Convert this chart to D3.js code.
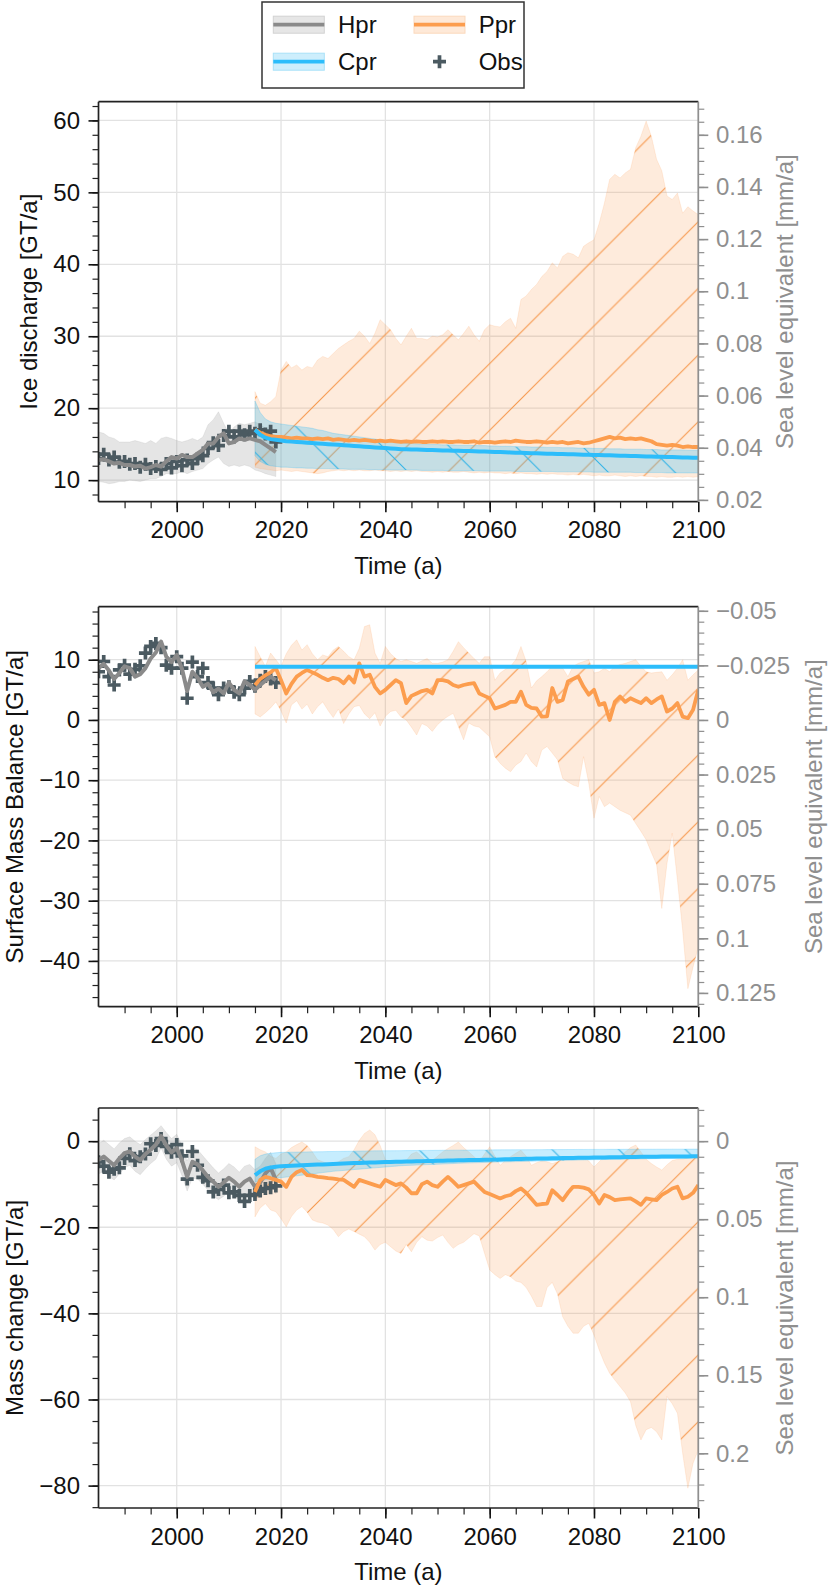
<!DOCTYPE html>
<meta charset="utf-8">
<style>
body{margin:0;background:#fff;}
svg text{font-family:"Liberation Sans", Arial, sans-serif; font-size:24px;}
</style>
<svg id="chart" width="832" height="1592"></svg>
<script src="https://d3js.org/d3.v7.min.js"></script>
<script>
// Three stacked panels: ice discharge, surface mass balance, mass change.
// Left axis in GT/a, right axis the same thing as sea level equivalent (1 mm = 362.5 GT).

// ---- years ----
const HIST_YEARS = d3.range(1985, 2020)   // 1985..2019
const PROJ_YEARS = d3.range(2015, 2101)   // 2015..2100

// ---- ticks ----
const X_TICKS = [2000, 2020, 2040, 2060, 2080, 2100]
const X_MINOR = d3.range(1990, 2100, 5)
const DISC_TICKS = [10, 20, 30, 40, 50, 60]
const DISC_SLE_TICKS = [0.02, 0.04, 0.06, 0.08, 0.1, 0.12, 0.14, 0.16]
const SMB_TICKS = [-40, -30, -20, -10, 0, 10]
const SMB_SLE_TICKS = [-0.05, -0.025, 0, 0.025, 0.05, 0.075, 0.1, 0.125]
const MC_TICKS = [-80, -60, -40, -20, 0]
const MC_SLE_TICKS = [0, 0.05, 0.1, 0.15, 0.2]

// ---- panel 1: ice discharge ----
const discObs = [13.0, 13.6, 12.8, 13.2, 12.5, 12.6, 12.2, 12.3, 11.8, 12.2,
  11.6, 11.9, 11.5, 12.3, 11.7, 12.6, 12.0, 12.8, 12.3, 13.0,
  13.4, 14.4, 15.2, 14.8, 16.2, 16.8, 16.0, 16.8, 16.3, 16.8,
  16.5, 17.0, 16.4, 16.8, 15.3]
const discHpr = [12.8, 12.9, 12.6, 12.3, 12.4, 12.1, 12.1, 11.9, 12.0, 11.6,
  11.8, 12.1, 11.9, 12.6, 13.2, 13.0, 13.5, 13.2, 13.2, 13.7,
  14.2, 15.1, 15.1, 16.0, 16.5, 15.1, 15.3, 15.8, 15.6, 15.8,
  15.6, 15.4, 14.9, 14.4, 13.9]
const discHprHi = [16.7, 16.5, 16.0, 15.8, 15.3, 15.3, 15.3, 15.5, 15.3, 15.1,
  15.5, 15.1, 15.8, 16.0, 15.8, 15.5, 15.3, 15.5, 15.8, 15.5,
  16.0, 17.7, 18.4, 19.5, 17.9, 16.5, 17.4, 17.9, 17.7, 17.9,
  18.1, 17.7, 17.2, 16.5, 16.0]
const discHprLo = [9.8, 9.7, 9.5, 9.6, 9.8, 9.8, 10.0, 9.9, 9.8, 10.0,
  10.2, 10.2, 10.5, 10.9, 10.9, 10.9, 11.2, 10.9, 11.2, 11.4,
  11.6, 12.3, 12.8, 13.2, 12.3, 11.9, 12.1, 11.9, 12.1, 11.9,
  11.4, 11.2, 10.9, 10.7, 10.5]
const discPpr = [17.0, 16.6, 16.3, 16.1, 16.0, 16.0, 15.9, 15.8, 15.9, 15.8,
  15.8, 15.7, 15.8, 15.7, 15.8, 15.6, 15.7, 15.6, 15.5, 15.6,
  15.5, 15.6, 15.5, 15.4, 15.5, 15.4, 15.5, 15.4, 15.3, 15.4,
  15.3, 15.4, 15.3, 15.3, 15.4, 15.3, 15.4, 15.3, 15.3, 15.4,
  15.3, 15.3, 15.4, 15.2, 15.3, 15.3, 15.2, 15.3, 15.4, 15.3,
  15.5, 15.4, 15.3, 15.3, 15.4, 15.3, 15.2, 15.3, 15.2, 15.3,
  15.1, 15.2, 15.3, 15.1, 15.2, 15.4, 15.6, 15.8, 16.0, 15.8,
  15.9, 15.7, 15.8, 15.7, 15.8, 15.6, 15.4, 15.0, 14.9, 14.8,
  14.9, 14.8, 14.6, 14.7, 14.6, 14.6]
const discPprHi = [22.3, 20.7, 20.4, 20.9, 21.6, 25.3, 26.5, 25.6, 26.0, 25.3,
  25.8, 25.6, 26.7, 27.2, 26.9, 27.6, 28.3, 28.8, 29.3, 29.7,
  30.7, 30.0, 29.0, 30.4, 32.3, 31.6, 30.9, 29.7, 28.8, 30.0,
  31.1, 29.7, 29.7, 29.5, 30.0, 29.9, 30.2, 30.9, 30.2, 29.5,
  30.4, 31.4, 30.2, 29.3, 30.9, 31.6, 31.4, 31.3, 32.0, 32.5,
  31.1, 35.1, 35.6, 36.5, 37.2, 38.3, 39.0, 40.2, 39.5, 41.1,
  41.6, 41.4, 40.9, 42.5, 43.0, 43.4, 45.7, 48.5, 51.8, 52.5,
  52.0, 52.7, 53.2, 56.2, 57.8, 59.9, 57.8, 54.6, 53.0, 49.5,
  49.0, 49.9, 47.1, 48.0, 47.4, 46.9]
const discPprLo = [11.8, 11.6, 11.5, 11.4, 11.3, 11.4, 11.3, 11.2, 11.3, 11.2,
  11.1, 11.0, 10.9, 11.0, 11.2, 11.3, 11.4, 11.3, 11.4, 11.3,
  11.4, 11.3, 11.3, 11.4, 11.3, 11.3, 11.2, 11.3, 11.2, 11.3,
  11.2, 11.3, 11.2, 11.2, 11.1, 11.2, 11.1, 11.2, 11.1, 11.1,
  11.2, 11.1, 11.0, 11.1, 11.0, 11.1, 11.0, 11.0, 10.9, 11.0,
  10.9, 11.0, 10.9, 10.9, 10.8, 10.9, 10.8, 10.9, 10.8, 10.8,
  10.7, 10.8, 10.7, 10.8, 10.7, 10.6, 10.7, 10.6, 10.6, 10.7,
  10.6, 10.5, 10.6, 10.5, 10.6, 10.5, 10.5, 10.4, 10.5, 10.4,
  10.4, 10.5, 10.4, 10.5, 10.4, 10.5]
const discCpr = [17.0, 16.3, 15.9, 15.7, 15.6, 15.5, 15.4, 15.35, 15.3, 15.25,
  15.2, 15.15, 15.1, 15.05, 15.0, 14.95, 14.9, 14.85, 14.8, 14.75,
  14.7, 14.65, 14.6, 14.55, 14.5, 14.45, 14.4, 14.35, 14.3, 14.28,
  14.26, 14.24, 14.22, 14.2, 14.18, 14.15, 14.13, 14.11, 14.09, 14.07,
  14.05, 14.03, 14.01, 13.99, 13.97, 13.95, 13.92, 13.9, 13.87, 13.85,
  13.82, 13.8, 13.77, 13.75, 13.72, 13.7, 13.68, 13.66, 13.64, 13.62,
  13.6, 13.58, 13.56, 13.54, 13.52, 13.5, 13.48, 13.46, 13.44, 13.42,
  13.4, 13.38, 13.36, 13.34, 13.32, 13.3, 13.28, 13.26, 13.24, 13.22,
  13.2, 13.18, 13.16, 13.14, 13.12, 13.1]
const discCprHi = [21.0, 19.4, 18.5, 18.1, 17.9, 17.8, 17.7, 17.6, 17.5, 17.4,
  17.3, 17.2, 17.0, 16.9, 16.7, 16.5, 16.4, 16.3, 16.2, 16.1,
  16.0, 15.9, 15.8, 15.7, 15.6, 15.5, 15.4, 15.3, 15.2, 15.15,
  15.1, 15.05, 15.0, 15.0, 14.95, 14.95, 14.9, 14.9, 14.9, 14.85,
  14.85, 14.85, 14.8, 14.8, 14.8, 14.75, 14.75, 14.7, 14.7, 14.7,
  14.65, 14.65, 14.65, 14.6, 14.6, 14.6, 14.55, 14.55, 14.55, 14.5,
  14.5, 14.5, 14.45, 14.45, 14.45, 14.4, 14.4, 14.4, 14.35, 14.35,
  14.35, 14.3, 14.3, 14.3, 14.3, 14.25, 14.25, 14.25, 14.2, 14.2,
  14.2, 14.2, 14.2, 14.15, 14.15, 14.15]
const discCprLo = [13.4, 12.6, 12.2, 12.0, 11.9, 11.8, 11.8, 11.75, 11.7, 11.7,
  11.65, 11.65, 11.6, 11.6, 11.6, 11.55, 11.55, 11.55, 11.5, 11.5,
  11.5, 11.5, 11.45, 11.45, 11.45, 11.45, 11.4, 11.4, 11.4, 11.4,
  11.4, 11.4, 11.35, 11.35, 11.35, 11.35, 11.35, 11.3, 11.3, 11.3,
  11.3, 11.3, 11.3, 11.3, 11.25, 11.25, 11.25, 11.25, 11.25, 11.25,
  11.2, 11.2, 11.2, 11.2, 11.2, 11.2, 11.2, 11.2, 11.15, 11.15,
  11.15, 11.15, 11.15, 11.15, 11.15, 11.1, 11.1, 11.1, 11.1, 11.1,
  11.1, 11.1, 11.1, 11.05, 11.05, 11.05, 11.05, 11.05, 11.05, 11.0,
  11.0, 11.0, 11.0, 11.0, 11.0, 11.0]

// ---- panel 2: surface mass balance ----
const smbObs = [8.0, 9.7, 7.2, 5.8, 8.3, 9.1, 7.6, 8.4, 9.0, 11.1,
  12.2, 12.7, 12.0, 9.1, 8.6, 10.5, 8.6, 3.6, 9.6, 7.2,
  8.6, 6.2, 5.3, 4.2, 5.3, 5.5, 4.6, 4.2, 5.3, 6.4,
  5.6, 6.6, 7.2, 6.8, 6.2]
const smbHpr = [8.6, 9.3, 8.2, 6.8, 7.8, 8.9, 8.6, 7.2, 7.6, 8.6,
  10.2, 11.2, 13.0, 10.5, 9.6, 10.8, 8.5, 4.8, 8.0, 7.0,
  5.5, 6.0, 4.6, 5.2, 4.4, 6.2, 5.0, 4.4, 6.4, 5.8,
  5.0, 5.8, 6.5, 7.2, 6.6]
const smbPpr = [5.8, 6.8, 7.4, 7.9, 8.6, 6.6, 4.4, 6.0, 7.2, 7.8,
  8.3, 7.9, 7.5, 7.0, 6.6, 7.0, 6.8, 6.1, 7.2, 6.2,
  9.4, 7.2, 7.5, 5.5, 4.4, 5.0, 5.8, 6.6, 6.1, 2.8,
  4.0, 4.4, 4.8, 5.0, 4.4, 6.6, 6.6, 6.4, 5.8, 5.5,
  5.8, 6.0, 6.1, 4.4, 4.0, 3.6, 1.9, 2.2, 2.5, 3.0,
  3.0, 4.7, 2.5, 2.0, 1.9, 0.55, 0.6, 5.3, 3.0, 3.3,
  6.4, 6.8, 7.2, 5.5, 4.2, 5.0, 2.5, 2.8, 0.0, 3.0,
  3.9, 3.0, 3.6, 3.2, 2.8, 3.6, 2.8, 3.4, 3.9, 1.4,
  1.9, 2.8, 0.55, 0.3, 1.7, 5.0]
const smbPprHi = [12.2, 10.5, 8.9, 11.1, 10.0, 8.9, 11.0, 12.4, 13.3, 11.6,
  12.5, 11.0, 10.0, 10.8, 10.5, 11.6, 12.2, 11.4, 10.5, 10.0,
  11.9, 15.5, 15.8, 11.1, 9.4, 12.2, 11.0, 10.2, 9.7, 10.0,
  9.7, 9.4, 9.8, 10.2, 9.4, 9.4, 9.6, 10.0, 11.4, 13.0,
  12.0, 11.1, 10.2, 9.4, 10.5, 10.5, 6.6, 7.8, 8.4, 8.9,
  10.0, 12.2, 9.7, 5.3, 6.5, 7.2, 8.0, 8.9, 8.8, 8.6,
  7.2, 8.9, 9.4, 9.7, 10.0, 7.8, 8.0, 8.6, 8.0, 8.9,
  9.2, 9.4, 9.7, 10.0, 8.9, 8.0, 7.8, 7.9, 8.0, 6.6,
  7.5, 8.6, 10.0, 6.6, 7.5, 8.3]
const smbPprLo = [1.0, 0.5, 1.2, 2.0, 3.0, 1.5, -0.5, 2.5, 3.2, 1.8,
  2.6, 1.0, 2.2, 3.0, 1.6, 0.4, 1.8, -0.6, 1.0, 2.2,
  2.4, 1.0, 0.2, 1.2, -1.0, 0.6, 1.4, 1.6, 0.5, 0.0,
  -1.2, -2.5, -0.6, -1.0, -1.9, -0.8, 0.0, 0.6, 1.1, -1.1,
  -3.3, -0.5, -1.0, -1.2, -2.0, -2.8, -6.1, -7.2, -8.0, -8.6,
  -7.5, -6.9, -5.5, -6.9, -7.8, -5.0, -4.4, -5.5, -6.6, -9.7,
  -10.3, -10.8, -11.1, -6.1, -10.5, -16.3, -12.7, -14.4, -13.8, -14.4,
  -15.0, -15.4, -15.8, -17.2, -18.5, -19.9, -22.0, -24.0, -31.3, -23.8,
  -18.8, -26.6, -34.9, -44.6, -41.0, -37.7]
const smbCprYears = [2015, 2100]
const smbCpr = [8.85, 8.85]

// ---- panel 3: mass change ----
const mcObs = [-4.8, -5.8, -7.2, -6.5, -6.2, -4.0, -2.9, -4.5, -3.6, -3.0,
  -0.6, -1.0, 0.6, -1.2, -2.6, -0.8, -3.4, -8.8, -2.4, -5.6,
  -8.4, -9.2, -11.8, -11.2, -10.2, -12.0, -11.8, -12.6, -14.0, -12.6,
  -12.4, -11.6, -11.0, -10.8, -10.4]
const mcHpr = [-4.4, -3.6, -4.6, -5.6, -4.0, -2.8, -2.4, -3.6, -4.4, -3.0,
  -2.0, -0.8, 1.2, -1.0, -2.6, -1.6, -4.5, -8.3, -4.8, -5.4,
  -6.8, -8.3, -9.4, -10.6, -9.6, -8.5, -9.4, -10.6, -9.4, -8.7,
  -10.6, -9.6, -7.5, -6.2, -9.0]
const mcHprHi = [-0.6, 0.2, -0.8, -1.8, -0.4, 0.6, 1.0, 0.0, -0.8, 0.4,
  1.4, 2.4, 3.6, 2.0, 0.6, 1.6, -1.0, -4.6, -1.4, -2.0,
  -3.4, -4.8, -6.2, -7.4, -6.4, -5.2, -6.0, -7.2, -5.8, -5.4,
  -6.6, -5.8, -4.0, -2.6, -5.2]
const mcHprLo = [-7.6, -7.0, -8.2, -9.0, -7.6, -6.2, -5.6, -7.0, -7.8, -6.4,
  -5.2, -4.2, -1.6, -4.2, -5.8, -5.0, -8.0, -11.6, -8.6, -8.8,
  -10.0, -11.4, -12.8, -13.6, -12.8, -11.6, -12.8, -13.8, -12.4, -12.0,
  -13.6, -12.8, -10.8, -9.4, -12.2]
const mcPpr = [-11.8, -9.0, -8.3, -8.6, -9.0, -9.4, -10.6, -8.3, -7.2, -6.7,
  -7.9, -8.0, -8.3, -8.4, -8.6, -8.7, -8.9, -9.0, -9.8, -10.6,
  -9.0, -9.4, -9.8, -10.2, -10.6, -9.0, -9.6, -10.2, -9.8, -10.8,
  -12.1, -12.1, -10.0, -9.4, -10.2, -10.6, -9.4, -8.3, -9.4, -10.6,
  -10.2, -9.8, -9.4, -10.6, -11.8, -12.3, -12.8, -13.3, -12.8, -12.5,
  -11.6, -11.0, -12.0, -13.4, -14.8, -14.6, -14.5, -11.4, -12.5, -13.7,
  -12.0, -10.6, -10.6, -10.8, -11.2, -12.5, -14.5, -12.5, -13.0, -13.7,
  -13.5, -13.4, -13.3, -14.0, -14.8, -13.3, -13.5, -13.7, -12.5, -11.8,
  -11.0, -10.6, -13.3, -12.9, -12.0, -10.2]
const mcPprHi = [-1.3, -2.0, -2.5, -3.5, -4.0, -3.0, -2.5, -1.5, -0.8, -0.2,
  -1.0, -2.5, -4.3, -4.8, -5.2, -5.2, -4.8, -4.0, -3.6, -2.0,
  0.2, 1.8, 2.6, 1.5, -1.0, -4.3, -4.8, -5.0, -5.2, -4.5,
  -3.0, -2.5, -3.6, -4.8, -4.5, -3.5, -2.5, -1.7, -1.0, -0.2,
  -1.5, -2.5, -3.6, -4.8, -3.0, -1.3, -3.5, -5.6, -4.5, -3.6,
  -2.8, -2.1, -3.5, -5.6, -5.0, -4.6, -4.8, -5.2, -4.8, -4.0,
  -3.8, -3.6, -3.6, -3.8, -4.6, -6.0, -4.8, -3.6, -3.6, -3.6,
  -3.6, -2.5, -1.5, -0.9, -2.5, -4.2, -5.2, -6.0, -6.7, -5.5,
  -4.5, -4.2, -4.2, -3.8, -3.5, -3.6]
const mcPprLo = [-17.6, -15.5, -14.5, -16.0, -16.4, -18.0, -19.9, -17.5, -16.0, -15.2,
  -16.5, -18.3, -18.8, -19.0, -19.5, -20.5, -22.2, -21.0, -20.4, -21.0,
  -21.6, -22.2, -23.5, -25.3, -24.0, -23.5, -24.5, -25.5, -26.1, -24.0,
  -25.7, -23.5, -22.2, -23.0, -23.2, -22.4, -21.8, -23.5, -24.9, -24.0,
  -23.5, -22.5, -21.5, -22.0, -26.0, -29.9, -31.0, -31.9, -31.0, -31.5,
  -32.5, -32.8, -34.0, -36.0, -38.4, -38.4, -34.0, -32.8, -35.5, -40.8,
  -43.0, -44.6, -44.6, -43.0, -42.3, -45.0, -48.5, -51.5, -53.9, -55.5,
  -57.0, -58.5, -60.5, -66.0, -69.4, -67.0, -66.5, -67.5, -69.4, -59.3,
  -61.0, -63.2, -72.5, -80.6, -74.8, -71.7]
const mcCpr = [-7.9, -7.0, -6.4, -6.1, -5.95, -5.8, -5.75, -5.7, -5.65, -5.6,
  -5.55, -5.5, -5.45, -5.4, -5.35, -5.3, -5.25, -5.2, -5.15, -5.1,
  -5.06, -5.02, -4.98, -4.94, -4.9, -4.87, -4.84, -4.81, -4.78, -4.75,
  -4.72, -4.69, -4.66, -4.63, -4.6, -4.57, -4.54, -4.51, -4.48, -4.45,
  -4.42, -4.4, -4.38, -4.36, -4.34, -4.32, -4.29, -4.26, -4.23, -4.2,
  -4.17, -4.14, -4.11, -4.08, -4.05, -4.02, -4.0, -3.98, -3.96, -3.94,
  -3.92, -3.9, -3.88, -3.86, -3.84, -3.82, -3.8, -3.78, -3.76, -3.74,
  -3.72, -3.7, -3.68, -3.66, -3.64, -3.62, -3.61, -3.6, -3.59, -3.58,
  -3.57, -3.56, -3.55, -3.54, -3.52, -3.5]
const mcCprHi = [-4.2, -3.4, -3.0, -2.8, -2.7, -2.6, -2.58, -2.56, -2.54, -2.52,
  -2.5, -2.48, -2.46, -2.44, -2.42, -2.4, -2.38, -2.36, -2.34, -2.32,
  -2.3, -2.28, -2.26, -2.25, -2.24, -2.23, -2.22, -2.21, -2.2, -2.19,
  -2.18, -2.17, -2.16, -2.15, -2.14, -2.13, -2.12, -2.11, -2.1, -2.09,
  -2.08, -2.07, -2.06, -2.05, -2.04, -2.03, -2.02, -2.01, -2.0, -2.0,
  -1.99, -1.99, -1.98, -1.98, -1.97, -1.97, -1.96, -1.96, -1.95, -1.95,
  -1.94, -1.94, -1.93, -1.93, -1.92, -1.92, -1.91, -1.91, -1.9, -1.9,
  -1.9, -1.89, -1.89, -1.89, -1.88, -1.88, -1.88, -1.87, -1.87, -1.87,
  -1.86, -1.86, -1.86, -1.85, -1.85, -1.85]
const mcCprLo = [-9.5, -9.2, -8.9, -8.7, -8.6, -8.5, -8.35, -8.2, -8.05, -7.9,
  -7.75, -7.6, -7.45, -7.3, -7.15, -7.0, -6.9, -6.8, -6.7, -6.6,
  -6.5, -6.4, -6.3, -6.2, -6.1, -6.0, -5.9, -5.8, -5.7, -5.65,
  -5.6, -5.55, -5.5, -5.45, -5.4, -5.35, -5.3, -5.25, -5.2, -5.15,
  -5.1, -5.06, -5.02, -4.98, -4.94, -4.9, -4.87, -4.84, -4.81, -4.78,
  -4.75, -4.72, -4.69, -4.66, -4.63, -4.6, -4.57, -4.54, -4.51, -4.48,
  -4.45, -4.42, -4.39, -4.36, -4.33, -4.3, -4.28, -4.26, -4.24, -4.22,
  -4.2, -4.18, -4.16, -4.14, -4.12, -4.1, -4.08, -4.06, -4.04, -4.02,
  -4.0, -3.98, -3.96, -3.94, -3.92, -3.9]

// ---- look ----
const GT_PER_MM = 362.5
const C_GRAY = '#8a8a8a', C_ORANGE = '#fc9d4e', C_BLUE = '#2cbdfb', C_OBS = '#4b5a61'
const C_GRID = '#e2e2e2', C_SPINE = '#222', C_RIGHT = '#8f8f8f'
const X0 = 98.5, X1 = 698.3, H = 400
const HATCH = 200 / 3

const PANELS = [
  { top: 101.7, yDomain: [7.0, 62.6], sle: 1 / GT_PER_MM,
    ticks: DISC_TICKS, minor: 2, sleTicks: DISC_SLE_TICKS, sleMinor: 0.005,
    label: 'Ice discharge [GT/a]', labelX: 37, sleLabelX: 793,
    obs: discObs,
    hpr: { years: HIST_YEARS, mid: discHpr, lo: discHprLo, hi: discHprHi },
    ppr: { years: PROJ_YEARS, mid: discPpr, lo: discPprLo, hi: discPprHi },
    cpr: { years: PROJ_YEARS, mid: discCpr, lo: discCprLo, hi: discCprHi } },
  { top: 606.7, yDomain: [-47.6, 18.8], sle: -1 / GT_PER_MM,
    ticks: SMB_TICKS, minor: 2, sleTicks: SMB_SLE_TICKS, sleMinor: 0.005,
    label: 'Surface Mass Balance [GT/a]', labelX: 23, sleLabelX: 822,
    obs: smbObs,
    hpr: { years: HIST_YEARS, mid: smbHpr },
    ppr: { years: PROJ_YEARS, mid: smbPpr, lo: smbPprLo, hi: smbPprHi },
    cpr: { years: smbCprYears, mid: smbCpr } },
  { top: 1108, yDomain: [-85.2, 7.7], sle: -1 / GT_PER_MM,
    ticks: MC_TICKS, minor: 5, sleTicks: MC_SLE_TICKS, sleMinor: 0.01,
    label: 'Mass change [GT/a]', labelX: 23, sleLabelX: 793,
    obs: mcObs,
    hpr: { years: HIST_YEARS, mid: mcHpr, lo: mcHprLo, hi: mcHprHi },
    ppr: { years: PROJ_YEARS, mid: mcPpr, lo: mcPprLo, hi: mcPprHi },
    cpr: { years: PROJ_YEARS, mid: mcCpr, lo: mcCprLo, hi: mcCprHi } }
]

const svg = d3.select('#chart')
const defs = svg.append('defs')

// hatch patterns, anchored to page coordinates like matplotlib does
defs.append('pattern').attr('id', 'hatch-ppr')
  .attr('patternUnits', 'userSpaceOnUse').attr('width', HATCH).attr('height', HATCH)
  .attr('patternTransform', 'translate(53.3,0)')
  .append('path')
  .attr('d', `M0,${HATCH}L${HATCH},0M-2,2L2,-2M${HATCH - 2},${HATCH + 2}L${HATCH + 2},${HATCH - 2}`)
  .attr('stroke', '#f6984c').attr('stroke-width', 1.1)
defs.append('pattern').attr('id', 'hatch-cpr')
  .attr('patternUnits', 'userSpaceOnUse').attr('width', HATCH).attr('height', HATCH)
  .attr('patternTransform', 'translate(0,64)')
  .append('path')
  .attr('d', `M0,0L${HATCH},${HATCH}M-2,${HATCH - 2}L2,${HATCH + 2}M${HATCH - 2},-2L${HATCH + 2},2`)
  .attr('stroke', '#35b4e6').attr('stroke-width', 1.1)

const x = d3.scaleLinear().domain([1985, 2100]).range([X0, X1])

function minorTicks(domain, step) {
  const lo = Math.ceil(d3.min(domain) / step - 1e-9), hi = Math.floor(d3.max(domain) / step + 1e-9)
  return d3.range(lo, hi + 1).map(k => +(k * step).toFixed(6))
}
const fmtSle = v => String(+v.toFixed(4)).replace('-', '\u2212')

function styleAxis(g, color, width) {
  g.select('.domain').remove()
  g.style('color', color)
  g.selectAll('line').attr('stroke-width', width)
}

function zip(s, key) {
  return s.years.map((yr, i) => ({ year: yr, v: s[key][i], lo: s.lo ? s.lo[i] : 0, hi: s.hi ? s.hi[i] : 0 }))
}

PANELS.forEach((p, pi) => {
  const y = d3.scaleLinear().domain(p.yDomain).range([p.top + H, p.top])
  const ySle = d3.scaleLinear().domain(p.yDomain.map(v => v * p.sle)).range([p.top + H, p.top])
  const g = svg.append('g')

  defs.append('clipPath').attr('id', 'clip' + pi).append('rect')
    .attr('x', X0).attr('y', p.top).attr('width', X1 - X0).attr('height', H)

  // grid
  g.append('g').selectAll('line').data(X_TICKS).join('line')
    .attr('x1', d => x(d)).attr('x2', d => x(d)).attr('y1', p.top).attr('y2', p.top + H)
    .attr('stroke', C_GRID).attr('stroke-width', 1.3)
  g.append('g').selectAll('line').data(p.ticks).join('line')
    .attr('x1', X0).attr('x2', X1).attr('y1', d => y(d)).attr('y2', d => y(d))
    .attr('stroke', C_GRID).attr('stroke-width', 1.3)

  const plot = g.append('g').attr('clip-path', `url(#clip${pi})`)
  const area = d3.area().x(d => x(d.year)).y0(d => y(d.lo)).y1(d => y(d.hi))
  const line = d3.line().x(d => x(d.year)).y(d => y(d.v))

  // bands
  if (p.hpr.lo) {
    plot.append('path').attr('d', area(zip(p.hpr, 'mid')))
      .attr('fill', '#999').attr('fill-opacity', 0.25)
      .attr('stroke', '#999').attr('stroke-opacity', 0.15).attr('stroke-width', 1)
  }
  const pprBand = area(zip(p.ppr, 'mid'))
  plot.append('path').attr('d', pprBand)
    .attr('fill', C_ORANGE).attr('fill-opacity', 0.2)
    .attr('stroke', C_ORANGE).attr('stroke-opacity', 0.15).attr('stroke-width', 1)
  plot.append('path').attr('d', pprBand).attr('fill', 'url(#hatch-ppr)')
  if (p.cpr.lo) {
    const cprBand = area(zip(p.cpr, 'mid'))
    plot.append('path').attr('d', cprBand)
      .attr('fill', C_BLUE).attr('fill-opacity', 0.27)
      .attr('stroke', C_BLUE).attr('stroke-opacity', 0.25).attr('stroke-width', 1)
    plot.append('path').attr('d', cprBand).attr('fill', 'url(#hatch-cpr)')
  }

  // observations as + markers
  plot.append('g').selectAll('path').data(HIST_YEARS.map((yr, i) => [yr, p.obs[i]])).join('path')
    .attr('transform', d => `translate(${x(d[0])},${y(d[1])})`)
    .attr('d', 'M-6.5,0H6.5M0,-6.5V6.5')
    .attr('stroke', C_OBS).attr('stroke-width', 3.7).attr('fill', 'none')

  // lines
  plot.append('path').attr('d', line(zip(p.hpr, 'mid'))).attr('fill', 'none')
    .attr('stroke', C_GRAY).attr('stroke-width', 4).attr('stroke-linejoin', 'round')
  plot.append('path').attr('d', line(zip(p.ppr, 'mid'))).attr('fill', 'none')
    .attr('stroke', C_ORANGE).attr('stroke-width', 3.8).attr('stroke-linejoin', 'round')
  plot.append('path').attr('d', line(zip(p.cpr, 'mid'))).attr('fill', 'none')
    .attr('stroke', C_BLUE).attr('stroke-width', 4).attr('stroke-linejoin', 'round')

  // axes
  g.append('g').attr('transform', `translate(${X0},0)`)
    .call(d3.axisLeft(y).tickValues(minorTicks(p.yDomain, p.minor)).tickSize(6).tickFormat(() => ''))
    .call(styleAxis, C_SPINE, 1.2)
  g.append('g').attr('transform', `translate(${X0},0)`)
    .call(d3.axisLeft(y).tickValues(p.ticks).tickSize(10).tickPadding(8.5).tickFormat(d3.format('d')))
    .call(styleAxis, '#111', 1.6)
  g.append('g').attr('transform', `translate(${X1},0)`)
    .call(d3.axisRight(ySle).tickValues(minorTicks(ySle.domain(), p.sleMinor)).tickSize(6).tickFormat(() => ''))
    .call(styleAxis, C_RIGHT, 1.2)
  g.append('g').attr('transform', `translate(${X1},0)`)
    .call(d3.axisRight(ySle).tickValues(p.sleTicks).tickSize(10).tickPadding(7.7).tickFormat(fmtSle))
    .call(styleAxis, C_RIGHT, 1.6)
  g.append('g').attr('transform', `translate(0,${p.top + H})`)
    .call(d3.axisBottom(x).tickValues(X_MINOR).tickSize(6.5).tickFormat(() => ''))
    .call(styleAxis, C_SPINE, 1.2)
  g.append('g').attr('transform', `translate(0,${p.top + H})`)
    .call(d3.axisBottom(x).tickValues(X_TICKS).tickSize(10.5).tickPadding(9.2).tickFormat(d3.format('d')))
    .call(styleAxis, '#111', 1.6)

  // spines
  const sp = g.append('g').attr('stroke-width', 1.7)
  sp.append('line').attr('x1', X0).attr('x2', X1).attr('y1', p.top).attr('y2', p.top).attr('stroke', C_SPINE)
  sp.append('line').attr('x1', X0).attr('x2', X1).attr('y1', p.top + H).attr('y2', p.top + H).attr('stroke', C_SPINE)
  sp.append('line').attr('x1', X0).attr('x2', X0).attr('y1', p.top).attr('y2', p.top + H).attr('stroke', C_SPINE)
  sp.append('line').attr('x1', X1).attr('x2', X1).attr('y1', p.top).attr('y2', p.top + H).attr('stroke', C_RIGHT)

  // axis labels
  g.append('text').attr('x', (X0 + X1) / 2).attr('y', p.top + H + 72.3)
    .attr('text-anchor', 'middle').attr('fill', '#111').text('Time (a)')
  g.append('text').attr('transform', `translate(${p.labelX},${p.top + H / 2}) rotate(-90)`)
    .attr('text-anchor', 'middle').attr('fill', '#111').text(p.label)
  g.append('text').attr('transform', `translate(${p.sleLabelX},${p.top + H / 2}) rotate(-90)`)
    .attr('text-anchor', 'middle').attr('fill', C_RIGHT).text('Sea level equivalent [mm/a]')
})

// legend
const LEGEND = [
  { name: 'Hpr', col: 0, row: 0, line: C_GRAY, fill: '#e6e6e6', edge: '#d2d2d2' },
  { name: 'Ppr', col: 1, row: 0, line: C_ORANGE, fill: '#fee9d8', edge: '#fbd9bd' },
  { name: 'Cpr', col: 0, row: 1, line: C_BLUE, fill: '#cdeefc', edge: '#a9e1f8' },
  { name: 'Obs', col: 1, row: 1 }
]
const leg = svg.append('g')
leg.append('rect').attr('x', 262).attr('y', 2).attr('width', 262).attr('height', 86)
  .attr('fill', '#fff').attr('stroke', '#333').attr('stroke-width', 1.5)
const item = leg.selectAll('g.item').data(LEGEND).join('g').attr('class', 'item')
  .attr('transform', d => `translate(${273.3 + d.col * 140.7},${24.7 + d.row * 37})`)
item.filter(d => d.line).append('rect').attr('x', 0).attr('y', -8.5).attr('width', 51).attr('height', 17)
  .attr('fill', d => d.fill).attr('stroke', d => d.edge).attr('stroke-width', 1)
item.filter(d => d.line).append('line').attr('x1', 0).attr('x2', 51)
  .attr('stroke', d => d.line).attr('stroke-width', 3.8)
item.filter(d => !d.line).append('path').attr('d', 'M19,0H32M25.5,-6.5V6.5')
  .attr('stroke', C_OBS).attr('stroke-width', 3.7)
item.append('text').attr('x', 64.7).attr('y', 8.5).attr('fill', '#111').text(d => d.name)
</script>
